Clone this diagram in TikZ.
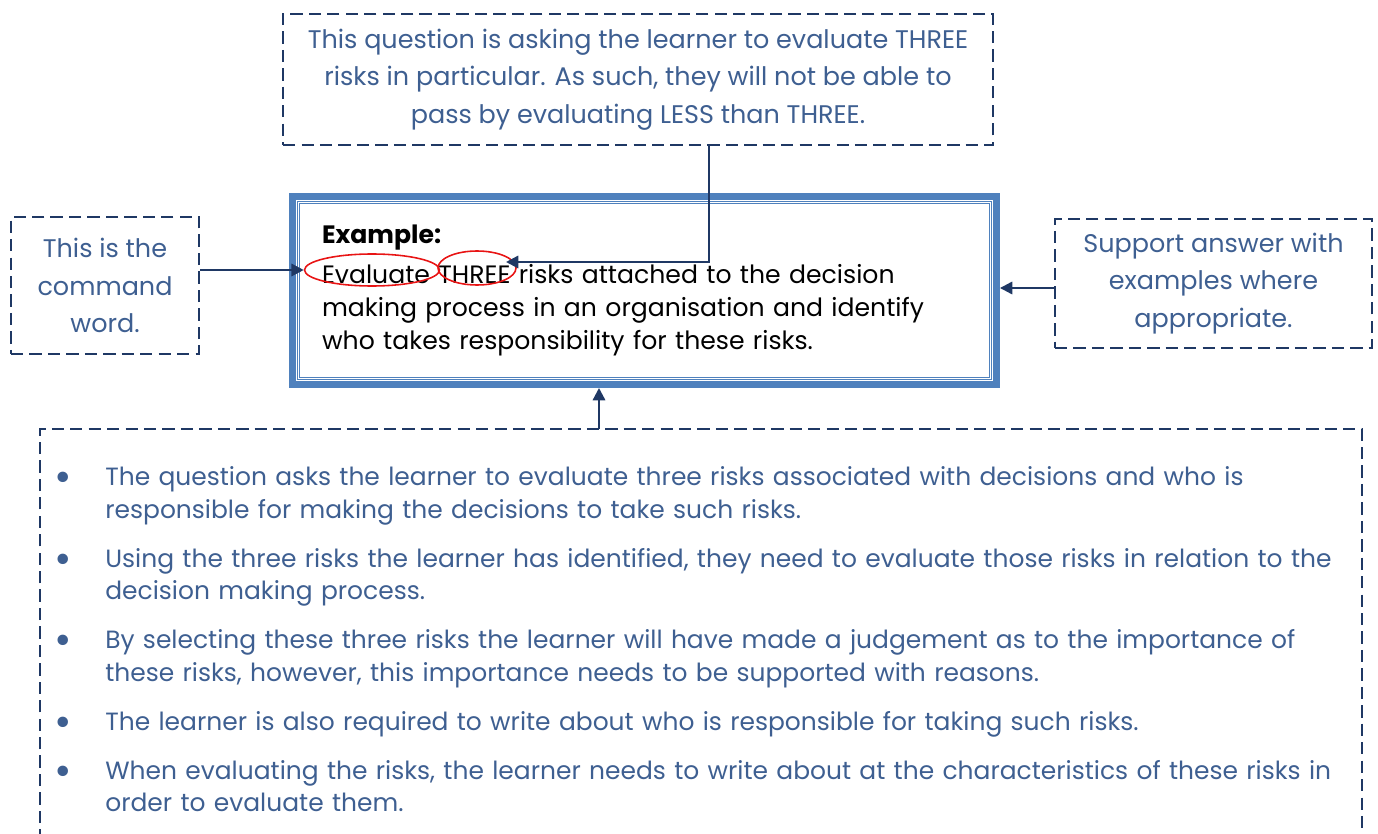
\documentclass[tikz,border=0pt]{standalone}
\usepackage{fontspec}
\setmainfont{Poppins}
\usetikzlibrary{arrows.meta,shapes.geometric}
\definecolor{inkblue}{RGB}{62,95,145}
\definecolor{navy}{RGB}{31,56,100}
\definecolor{frameblue}{RGB}{79,129,189}
\definecolor{ringred}{RGB}{232,20,20}
\tikzset{
  dashframe/.style={draw=navy, line width=1.3pt, dash pattern=on 7pt off 3.5pt},
  callout/.style={dashframe, text=inkblue, align=center, inner sep=0pt, font=\fontsize{14.5}{21.3}\selectfont},
  mainframe/.style={draw=frameblue, line width=4pt, align=left, inner sep=0pt, font=\fontsize{14.3}{18.8}\selectfont},
  ring/.style={ellipse, draw=ringred, line width=0.9pt, inner sep=0pt},
  notetext/.style={text=inkblue, align=left, inner sep=0pt, text width=26.2cm, font=\fontsize{14.2}{18.5}\selectfont},
  link/.style={draw=navy, line width=1.3pt, -{Triangle[length=7pt,width=7pt]}},
}
\newcommand{\notedot}{\raisebox{-0.25em}{\scalebox{1.7}{\textbullet}}}

\begin{document}
\begin{tikzpicture}[x=0.02cm, y=-0.02cm]
\useasboundingbox (0,0) rectangle (1378,834);
\node[callout, minimum width=14.2cm, minimum height=2.62cm] (ask) at (638,79.5) {This question is asking the learner to evaluate THREE\\risks in particular. As such, they will not be able to\\pass by evaluating LESS than THREE.};
\node[callout, minimum width=3.76cm, minimum height=2.74cm] (cmd) at (105,285.5) {This is the\\command\\word.};
\node[callout, minimum width=6.34cm, minimum height=2.58cm] (support) at (1213.5,283.5) {Support answer with\\examples where\\appropriate.};
\node[mainframe, minimum width=14.08cm, minimum height=3.76cm, text width=12.9cm] (task) at (644.5,290.5) {\vspace*{0.2cm}\raisebox{-0.07cm}{\textbf{Example:}}\\Evaluate THREE risks attached to the decision\\making process in an organisation and identify\\who takes responsibility for these risks.};
\draw[frameblue, line width=0.5pt, double, double distance=1pt] ([shift={(9.5,9.5)}]task.north west) rectangle ([shift={(-9.5,-9.5)}]task.south east);
\node[ring, minimum width=2.7cm, minimum height=0.64cm] (evalring) at (372,270) {};
\node[ring, minimum width=1.56cm, minimum height=0.68cm] (threering) at (477,268) {};
\draw[dashframe] (40,860) |- (1362,429) -- (1362,860);
\node[notetext, anchor=base west] (notes) at (45,439) {%
\setlength{\leftmargini}{1.2cm}\setlength{\labelsep}{0.66cm}%
\setlength{\topsep}{0pt}\setlength{\partopsep}{0pt}%
\renewcommand{\labelitemi}{\notedot}%
\begin{itemize}\setlength{\itemsep}{0.33cm}\setlength{\parsep}{0pt}\setlength{\parskip}{0pt}
\item The question asks the learner to evaluate three risks associated with decisions and who is\newline responsible for making the decisions to take such risks.
\item Using the three risks the learner has identified, they need to evaluate those risks in relation to the\newline decision making process.
\item By selecting these three risks the learner will have made a judgement as to the importance of\newline these risks, however, this importance needs to be supported with reasons.
\item The learner is also required to write about who is responsible for taking such risks.
\item When evaluating the risks, the learner needs to write about at the characteristics of these risks in\newline order to evaluate them.
\end{itemize}};
\coordinate (threetip) at (506,262);
\coordinate (supp) at ([shift={(0,4.5)}]support.west);
\coordinate (notetop) at (599,429);
\draw[link] ([shift={(71,0)}]ask.south) |- (threetip);
\draw[link] (cmd.east |- evalring.west) -- (evalring.west);
\draw[link] (supp) -- (supp -| task.east);
\draw[link] (notetop) -- (notetop |- task.south);
\end{tikzpicture}
\end{document}
